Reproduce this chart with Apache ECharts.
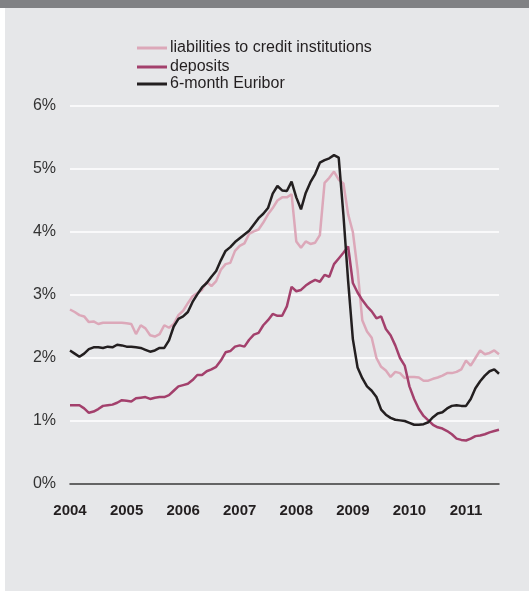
<!DOCTYPE html>
<html>
<head>
<meta charset="utf-8">
<script src="https://cdn.jsdelivr.net/npm/echarts@6/dist/echarts.min.js"></script>
<style>
  html, body { margin: 0; padding: 0; background: #ffffff; }
  #main { width: 529px; height: 592px; }
</style>
</head>
<body>
<div id="main"></div>
<script>
// years on the x axis, monthly points from Jan 2004 to Aug 2011
var years = ["2004", "2005", "2006", "2007", "2008", "2009", "2010", "2011"];
var monthsInLastYear = 8;

// liabilities to credit institutions (%)
var liabilities = [
  2.77, 2.73, 2.68, 2.66, 2.57, 2.58, 2.54, 2.56, 2.56, 2.56, 2.56, 2.56,
  2.55, 2.54, 2.38, 2.52, 2.47, 2.36, 2.34, 2.38, 2.52, 2.48, 2.54, 2.68,
  2.75, 2.87, 2.98, 3.03, 3.08, 3.21, 3.14, 3.22, 3.40, 3.49, 3.51, 3.70,
  3.78, 3.82, 3.97, 4.01, 4.04, 4.15, 4.28, 4.38, 4.50, 4.55, 4.55, 4.60,
  3.85, 3.75, 3.85, 3.81, 3.83, 3.95, 4.78, 4.86, 4.96, 4.83, 4.77, 4.28,
  4.00, 3.40, 2.60, 2.42, 2.32, 2.00, 1.86, 1.80, 1.70, 1.78, 1.76, 1.68,
  1.70, 1.70, 1.69, 1.64, 1.64, 1.67, 1.69, 1.72, 1.76, 1.76, 1.78, 1.82,
  1.96, 1.88, 2.00, 2.12, 2.06, 2.08, 2.12, 2.06
];

// deposits (%)
var deposits = [
  1.25, 1.25, 1.25, 1.20, 1.13, 1.15, 1.19, 1.24, 1.25, 1.26, 1.29, 1.33,
  1.32, 1.31, 1.36, 1.37, 1.38, 1.35, 1.37, 1.38, 1.38, 1.41, 1.48, 1.55,
  1.57, 1.59, 1.65, 1.73, 1.73, 1.79, 1.82, 1.86, 1.96, 2.09, 2.11, 2.18,
  2.20, 2.18, 2.29, 2.37, 2.40, 2.52, 2.60, 2.70, 2.67, 2.67, 2.82, 3.13,
  3.06, 3.08, 3.15, 3.20, 3.24, 3.21, 3.32, 3.29, 3.49, 3.58, 3.67, 3.77,
  3.19, 3.04, 2.92, 2.82, 2.74, 2.63, 2.66, 2.46, 2.36, 2.20, 2.00, 1.88,
  1.55, 1.35, 1.19, 1.08, 1.01, 0.94, 0.90, 0.88, 0.84, 0.79, 0.72, 0.70,
  0.69, 0.72, 0.76, 0.77, 0.79, 0.82, 0.84, 0.86
];

// 6-month Euribor (%)
var euribor = [
  2.12, 2.07, 2.02, 2.07, 2.14, 2.17, 2.17, 2.16, 2.18, 2.17, 2.21, 2.20,
  2.18, 2.18, 2.17, 2.16, 2.13, 2.10, 2.12, 2.16, 2.16, 2.28, 2.50, 2.62,
  2.66, 2.73, 2.89, 3.01, 3.12, 3.19, 3.29, 3.38, 3.55, 3.70, 3.76, 3.84,
  3.90, 3.96, 4.02, 4.12, 4.22, 4.29, 4.38, 4.61, 4.73, 4.66, 4.65, 4.80,
  4.55, 4.36, 4.62, 4.79, 4.92, 5.10, 5.14, 5.17, 5.22, 5.18, 4.27, 3.22,
  2.30, 1.85, 1.68, 1.55, 1.48, 1.38, 1.18, 1.10, 1.05, 1.02, 1.01, 1.00,
  0.97, 0.94, 0.94, 0.95, 0.98, 1.06, 1.12, 1.14, 1.20, 1.24, 1.25, 1.24,
  1.24, 1.35, 1.52, 1.63, 1.72, 1.79, 1.82, 1.75
];

var yTicks = [0, 1, 2, 3, 4, 5, 6];

// month categories
var months = [];
years.forEach(function (y, k) {
  var n = k === years.length - 1 ? monthsInLastYear : 12;
  for (var m = 1; m <= n; m++) {
    months.push(y + "-" + (m < 10 ? "0" + m : m));
  }
});

var fontFamily = "'Liberation Sans', Arial, Helvetica, sans-serif";
var textColor = "#231f20";

var chartDom = document.getElementById("main");
var myChart = echarts.init(chartDom);

var legendBase = {
  left: 137,
  orient: "vertical",
  icon: "rect",
  itemWidth: 30,
  itemHeight: 3,
  itemGap: 0,
  padding: 0,
  textStyle: { color: textColor, fontSize: 16, fontFamily: fontFamily, padding: [0, 0, 0, -2] },
};

var option = {
  backgroundColor: "#e6e7e9",
  animation: false,
  graphic: [
    // thin white margin on the left and bottom
    { type: "rect", left: 0, top: 0, shape: { width: 5, height: 592 }, style: { fill: "#ffffff" } },
    { type: "rect", left: 0, top: 591, shape: { width: 529, height: 1 }, style: { fill: "#ffffff" } },
    // dark band along the top
    { type: "rect", left: 0, top: 0, shape: { width: 529, height: 8 }, style: { fill: "#808184" } },
  ],
  legend: [
    Object.assign({}, legendBase, { top: 40, data: ["liabilities to credit institutions"] }),
    Object.assign({}, legendBase, { top: 59, data: ["deposits"] }),
    Object.assign({}, legendBase, { top: 76, data: ["6-month Euribor"] }),
  ],
  grid: {
    left: 70,
    right: 30,
    top: 106,
    bottom: 108,
  },
  xAxis: {
    type: "category",
    data: months,
    boundaryGap: false,
    axisLine: { lineStyle: { color: "#333333", width: 1.5 } },
    axisTick: { show: false },
    axisLabel: {
      interval: function (index) {
        return index % 12 === 0;
      },
      formatter: function (value) {
        return value.slice(0, 4);
      },
      margin: 19,
      color: textColor,
      fontSize: 15,
      fontWeight: "bold",
      fontFamily: fontFamily,
    },
    splitLine: { show: false },
  },
  yAxis: {
    type: "value",
    min: yTicks[0],
    max: yTicks[yTicks.length - 1],
    interval: 1,
    axisLine: { show: false },
    axisTick: { show: false },
    axisLabel: {
      formatter: "{value}%",
      margin: 14,
      color: "#333333",
      fontSize: 16,
      fontFamily: fontFamily,
    },
    splitLine: { lineStyle: { color: "#ffffff", width: 1.5 } },
  },
  series: [
    {
      name: "liabilities to credit institutions",
      type: "line",
      data: liabilities,
      symbol: "none",
      itemStyle: { color: "#dca8b9" },
      lineStyle: { color: "#dca8b9", width: 2.5 },
    },
    {
      name: "deposits",
      type: "line",
      data: deposits,
      symbol: "none",
      itemStyle: { color: "#a3406c" },
      lineStyle: { color: "#a3406c", width: 2.5 },
    },
    {
      name: "6-month Euribor",
      type: "line",
      data: euribor,
      symbol: "none",
      itemStyle: { color: "#231f20" },
      lineStyle: { color: "#231f20", width: 2.5 },
    },
  ],
};

option && myChart.setOption(option);
</script>
</body>
</html>
